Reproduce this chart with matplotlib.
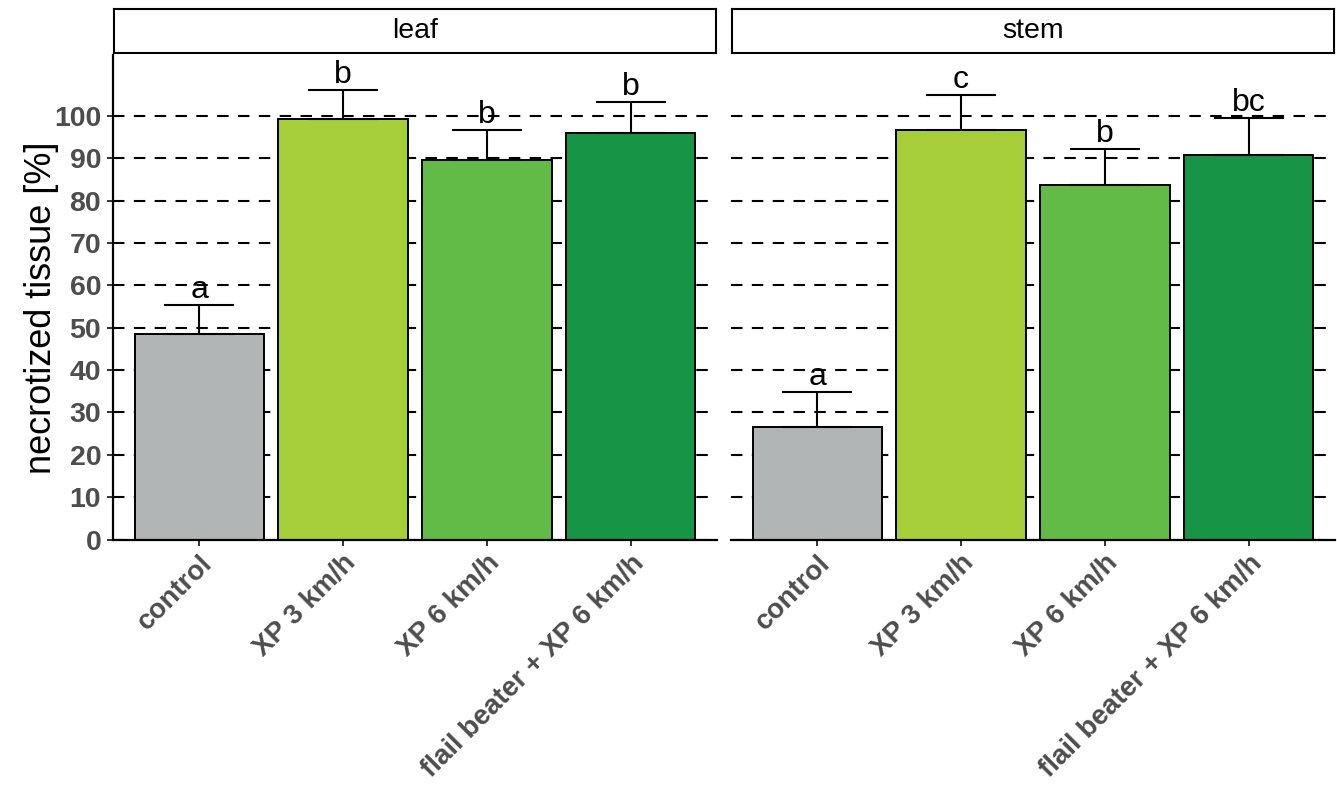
import matplotlib
matplotlib.use('Agg')
import matplotlib.pyplot as plt
import numpy as np

plt.rcParams['font.family'] = ['Liberation Sans', 'DejaVu Sans']

# data
treatments = ['control', 'XP 3 km/h', 'XP 6 km/h', 'flail beater + XP 6 km/h']
panels = ['leaf', 'stem']
leaf_mean = [48.6, 99.2, 89.5, 96.1]
leaf_sd = [6.8, 6.9, 7.1, 7.3]
leaf_letters = ['a', 'b', 'b', 'b']
stem_mean = [26.6, 96.7, 83.7, 90.7]
stem_sd = [8.2, 8.3, 8.5, 8.9]
stem_letters = ['a', 'c', 'b', 'bc']
bar_colors = ['#b1b5b5', '#a6ce39', '#62bb46', '#189446']
y_ticks = list(range(0, 101, 10))

W, H = 1337, 785
fig = plt.figure(figsize=(W / 100, H / 100), dpi=100)

tick_col = '#4d4d4d'
panel_left = [113, 731]
panel_w = 604
top_px, bottom_px = 55, 539.5

data = [(leaf_mean, leaf_sd, leaf_letters), (stem_mean, stem_sd, stem_letters)]
x = np.arange(1, len(treatments) + 1)

for i, (name, (mean, sd, letters)) in enumerate(zip(panels, data)):
    l = panel_left[i]
    ax = fig.add_axes([l / W, 1 - bottom_px / H, panel_w / W, (bottom_px - top_px) / H])

    # dashed horizontal grid behind the bars
    ax.set_yticks(y_ticks)
    ax.grid(axis='y', color='black', linestyle=(0, (5.5, 4.5)), linewidth=1.5)
    ax.grid(axis='x', visible=False)
    ax.set_axisbelow(True)

    ax.bar(x, mean, width=0.9, color=bar_colors, edgecolor='black', linewidth=1.4, zorder=2)
    ax.errorbar(x, mean, yerr=[np.zeros(len(sd)), sd], fmt='none', ecolor='black',
                elinewidth=1.5, capsize=25, capthick=1.5, zorder=3)
    for xi, m, s, lab in zip(x, mean, sd, letters):
        ax.annotate(lab, (xi, m + s), xytext=(0, 5), textcoords='offset points',
                    ha='center', va='baseline', fontsize=23, zorder=4)

    ax.set_xlim(0.4, 4.6)
    ax.set_ylim(0, 114.4)
    ax.set_xticks(x)
    ax.set_xticklabels(treatments, rotation=45, ha='right', va='top', rotation_mode='anchor',
                       fontsize=20, fontweight='bold', color=tick_col)
    ax.tick_params(axis='x', length=4, width=1.4, color='#333333', pad=3.5)

    for sp in ['top', 'right']:
        ax.spines[sp].set_visible(False)
    ax.spines['bottom'].set_linewidth(1.6)
    if i == 0:
        ax.spines['left'].set_linewidth(1.6)
        ax.set_yticklabels([str(t) for t in y_ticks], fontsize=20.5, fontweight='bold', color=tick_col)
        ax.tick_params(axis='y', length=4.5, width=1.4, color='#333333', pad=4)
    else:
        ax.spines['left'].set_visible(False)
        ax.tick_params(axis='y', left=False, labelleft=False)

    # facet strip
    sax = fig.add_axes([(l + 1) / W, 1 - 53 / H, (panel_w - 2) / W, 44 / H])
    sax.set_xticks([])
    sax.set_yticks([])
    for sp in sax.spines.values():
        sp.set_linewidth(1.5)
    sax.text(0.5, 0.5, name, ha='center', va='center', fontsize=20.5, transform=sax.transAxes)

fig.text(42 / W, 1 - 308 / H, 'necrotized tissue [%]', rotation=90, ha='center', va='center',
         fontsize=26)

fig.savefig('out.png', dpi=100)
